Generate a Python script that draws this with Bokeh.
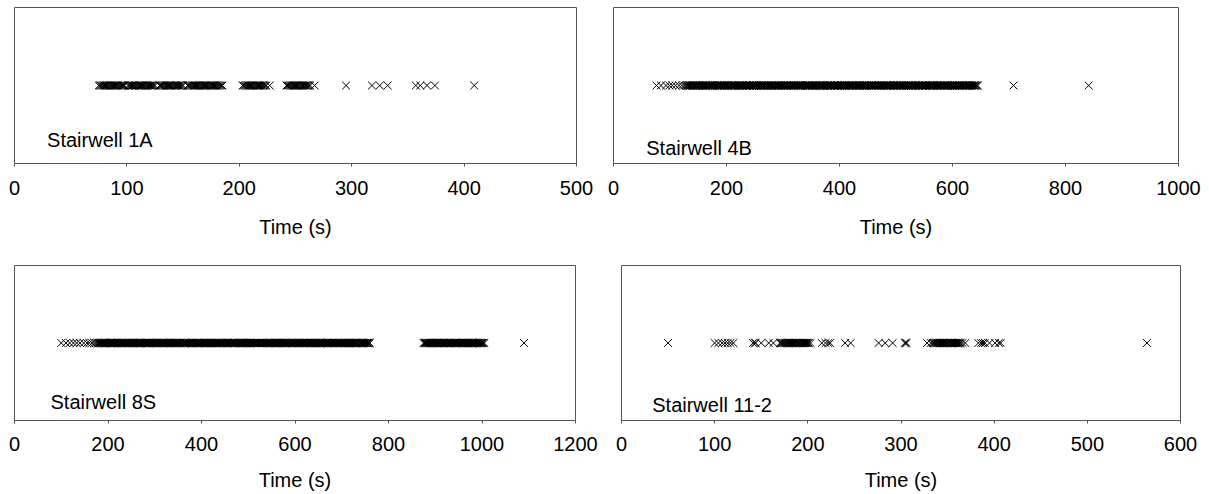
from bokeh.plotting import figure
from bokeh.models import FixedTicker, Label, Range1d
from bokeh.layouts import column, row
from bokeh.embed import file_html
from bokeh.resources import INLINE

# ---------------- data (evacuation / arrival times, s) ----------------
names = ["Stairwell 1A", "Stairwell 4B", "Stairwell 8S", "Stairwell 11-2"]

times_1a = [75, 76, 78, 79, 81, 82, 84, 85, 86, 88, 90, 91, 93, 95, 96, 98, 101,
            103, 104, 106, 107, 109, 110, 112, 113, 115, 116, 118, 119, 121, 122,
            124, 125, 129, 130, 132, 133, 135, 136, 138, 139, 141, 142, 144, 145,
            147, 149, 150, 154, 155, 157, 158, 160, 161, 163, 165, 166, 168, 169,
            171, 172, 174, 175, 177, 179, 180, 182, 183, 185,
            77, 80, 83, 87, 89, 92, 94, 97, 102, 105, 108, 111, 114, 117, 120,
            123, 131, 134, 137, 140, 143, 146, 148, 156, 159, 162, 164, 167, 170,
            173, 176, 178, 181, 184,
            203, 205, 206, 208, 209, 211, 212, 214, 215, 217, 218, 220, 222, 224, 227,
            204, 207, 210, 213, 216, 219, 221, 223,
            242, 243, 245, 247, 248, 250, 251, 253, 254, 256, 258, 259, 261, 263, 267,
            244, 246, 249, 252, 255, 257, 260, 262,
            295, 318, 325, 332, 357, 361, 367, 374, 409]

times_4b = [76, 84, 93, 99, 104, 110, 116, 121, 125, 128,
            130, 132, 135, 137, 140, 143, 145, 148, 150, 153, 156, 158, 161, 163,
            166, 169, 171, 174, 176, 179, 182, 184, 187, 189, 192, 195, 197, 200,
            202, 205, 208, 210, 213, 215, 218, 221, 223, 226, 228, 231, 234, 236,
            239, 241, 244, 247, 249, 252, 254, 257, 260, 262, 265, 267, 270, 273,
            275, 278, 280, 283, 286, 288, 291, 293, 296, 299, 301, 304, 306, 309,
            312, 314, 317, 319, 322, 325, 327, 330, 332, 335, 338, 340, 343, 345,
            348, 351, 353, 356, 358, 361, 364, 366, 369, 371, 374, 377, 379, 382,
            384, 387, 390, 392, 395, 397, 400, 403, 405, 408, 410, 413, 416, 418,
            421, 423, 426, 429, 431, 434, 436, 439, 442, 444, 447, 449, 452, 455,
            457, 460, 462, 465, 468, 470, 473, 475, 478, 481, 483, 486, 488, 491,
            494, 496, 499, 501, 504, 507, 509, 512, 514, 517, 520, 522, 525, 527,
            530, 533, 535, 538, 540, 543, 546, 548, 551, 553, 556, 559, 561, 564,
            566, 569, 572, 574, 577, 579, 582, 585, 587, 590, 592, 595, 598, 600,
            603, 605, 608, 611, 613, 616, 618, 621, 624, 626, 629, 631, 634, 637,
            639, 642, 645,
            131, 134, 136, 139, 141, 144, 146, 149, 151, 154, 157, 159, 162, 164,
            167, 170, 172, 175, 177, 180, 183, 185, 188, 190, 193, 196, 198, 201,
            203, 206, 209, 211, 214, 216, 219, 222, 224, 227, 229, 232, 235, 237,
            240, 242, 245, 248, 250, 253, 255, 258, 261, 263, 266, 268, 271, 274,
            276, 279, 281, 284, 287, 289, 292, 294, 297, 300, 302, 305, 307, 310,
            313, 315, 318, 320, 323, 326, 328, 331, 333, 336, 339, 341, 344, 346,
            349, 352, 354, 357, 359, 362, 365, 367, 370, 372, 375, 378, 380, 383,
            385, 388, 391, 393, 396, 398, 401, 404, 406, 409, 411, 414, 417, 419,
            422, 424, 427, 430, 432, 435, 437, 440, 443, 445, 448, 450, 453, 456,
            458, 461, 463, 466, 469, 471, 474, 476, 479, 482, 484, 487, 489, 492,
            495, 497, 500, 502, 505, 508, 510, 513, 515, 518, 521, 523, 526, 528,
            531, 534, 536, 539, 541, 544, 547, 549, 552, 554, 557, 560, 562, 565,
            567, 570, 573, 575, 578, 580, 583, 586, 588, 591, 593, 596, 599, 601,
            604, 606, 609, 612, 614, 617, 619, 622, 625, 627, 630, 632, 635, 638,
            640, 643,
            708, 841]

times_8s = [100, 110, 118, 126, 133, 140, 148, 155, 160, 166, 171, 175,
            178, 181, 184, 187, 190, 193, 196, 199, 202, 205, 208, 211, 214, 217,
            220, 223, 226, 229, 232, 235, 238, 241, 244, 247, 250, 253, 256, 259,
            262, 265, 268, 271, 274, 277, 280, 283, 286, 289, 292, 295, 298, 301,
            304, 307, 310, 313, 316, 319, 322, 325, 328, 331, 334, 337, 340, 343,
            346, 349, 352, 355, 358, 361, 364, 367, 370, 373, 376, 379, 382, 385,
            388, 391, 394, 397, 400, 403, 406, 409, 412, 415, 418, 421, 424, 427,
            430, 433, 436, 439, 442, 445, 448, 451, 454, 457, 460, 463, 466, 469,
            472, 475, 478, 481, 484, 487, 490, 493, 496, 499, 502, 505, 508, 511,
            514, 517, 520, 523, 526, 529, 532, 535, 538, 541, 544, 547, 550, 553,
            556, 559, 562, 565, 568, 571, 574, 577, 580, 583, 586, 589, 592, 595,
            598, 601, 604, 607, 610, 613, 616, 619, 622, 625, 628, 631, 634, 637,
            640, 643, 646, 649, 652, 655, 658, 661, 664, 667, 670, 673, 676, 679,
            682, 685, 688, 691, 694, 697, 700, 703, 706, 709, 712, 715, 718, 721,
            724, 727, 730, 733, 736, 739, 742, 745, 748, 751, 754, 757, 760,
            180, 183, 186, 189, 192, 195, 198, 201, 204, 207, 210, 213, 216, 219,
            222, 225, 228, 231, 234, 237, 240, 243, 246, 249, 252, 255, 258, 261,
            264, 267, 270, 273, 276, 279, 282, 285, 288, 291, 294, 297, 300, 303,
            306, 309, 312, 315, 318, 321, 324, 327, 330, 333, 336, 339, 342, 345,
            348, 351, 354, 363, 366, 369, 372, 375, 378, 381, 384, 387, 390, 393,
            396, 399, 402, 405, 408, 411, 414, 417, 420, 423, 426, 429, 432, 435,
            438, 441, 444, 447, 453, 456, 459, 462, 465, 468, 471, 474, 477, 480,
            483, 486, 489, 492, 495, 498, 501, 504, 507, 510, 513, 516, 519, 522,
            525, 528, 531, 534, 537, 540, 543, 546, 549, 552, 555, 558, 561, 564,
            567, 570, 573, 576, 579, 582, 585, 588, 594, 597, 600, 603, 606, 609,
            612, 615, 618, 621, 624, 627, 630, 633, 636, 639, 642, 645, 648, 651,
            654, 657, 660, 663, 666, 669, 672, 675, 678, 681, 684, 687, 690, 693,
            696, 699, 702, 705, 708, 711, 714, 717, 720, 723, 726, 729, 732, 738,
            741, 744, 747, 750, 753, 756, 759,
            875, 878, 881, 884, 887, 890, 893, 896, 899, 902, 905, 908, 911, 914,
            917, 920, 923, 926, 929, 932, 935, 938, 941, 944, 947, 950, 953, 956,
            959, 962, 965, 968, 971, 974, 977, 980, 983, 986, 989, 992, 995, 998,
            1001, 1005,
            877, 880, 883, 886, 889, 892, 895, 898, 901, 904, 907, 910, 913, 916,
            919, 922, 925, 928, 931, 934, 937, 940, 943, 946, 949, 952, 955, 958,
            961, 964, 967, 970, 973, 976, 979, 982, 985, 988, 991, 994, 997, 1000,
            1003,
            1090]

times_112 = [50,
             100, 104, 108, 111, 114, 117, 120,
             141, 143, 144, 150, 158, 163,
             170, 172, 174, 175, 177, 178, 180, 181, 183, 184, 186, 187, 189, 190,
             192, 194, 196, 198, 200, 203,
             171, 173, 176, 179, 182, 185, 188, 191, 193, 195, 197, 199, 201,
             215, 219, 222, 224,
             240, 246,
             276, 283, 291, 304, 305, 306,
             328, 332, 335, 337, 339, 341, 343, 345, 347, 349, 351, 352, 354, 356,
             358, 360, 362, 364, 366, 369,
             334, 336, 338, 340, 342, 344, 346, 348, 350, 353, 355, 357, 359, 361,
             363,
             383, 386, 388, 390, 395, 401, 405, 407,
             564]

ticks_1a = [0, 100, 200, 300, 400, 500]
ticks_4b = [0, 200, 400, 600, 800, 1000]
ticks_8s = [0, 200, 400, 600, 800, 1000, 1200]
ticks_112 = [0, 100, 200, 300, 400, 500, 600]
labels_1a = ["0", "100", "200", "300", "400", "500"]
labels_4b = ["0", "200", "400", "600", "800", "1000"]
labels_8s = ["0", "200", "400", "600", "800", "1000", "1200"]
labels_112 = ["0", "100", "200", "300", "400", "500", "600"]
x_label = "Time (s)"

FONT = "Liberation Sans"
LINE = "#555555"


def panel(xs, ticks, labels, name, name_pos, width, height, borders,
          standoffs):
    bl, br, bt, bb = borders
    p = figure(width=width, height=height, output_backend="svg",
               toolbar_location=None, x_range=Range1d(ticks[0], ticks[-1]),
               y_range=Range1d(0, 2), y_axis_location=None,
               min_border_left=bl, min_border_right=br,
               min_border_top=bt, min_border_bottom=bb,
               x_axis_label=x_label)
    p.xgrid.visible = False
    p.ygrid.visible = False
    p.outline_line_color = LINE
    p.outline_line_width = 1
    p.outline_line_alpha = 1
    p.background_fill_color = "white"
    p.border_fill_color = "white"

    ax = p.xaxis[0]
    ax.ticker = FixedTicker(ticks=ticks)
    ax.major_label_overrides = {t: l for t, l in zip(ticks, labels)}
    ax.major_tick_in = 0
    ax.major_tick_out = 3
    ax.minor_tick_in = 0
    ax.minor_tick_out = 0
    ax.axis_line_color = LINE
    ax.major_tick_line_color = LINE
    ax.major_label_text_font = FONT
    ax.major_label_text_font_size = "20px"
    ax.major_label_text_color = "black"
    ax.major_label_standoff = standoffs[0]
    ax.axis_label_text_font = FONT
    ax.axis_label_text_font_size = "20px"
    ax.axis_label_text_font_style = "normal"
    ax.axis_label_text_color = "black"
    ax.axis_label_standoff = standoffs[1]

    p.scatter(xs, [1] * len(xs), marker="x", size=11, line_color="black",
              line_width=1)

    p.add_layout(Label(x=name_pos[0], y=name_pos[1], text=name,
                       text_font=FONT, text_font_size="20px",
                       text_color="black", text_baseline="middle"))
    return p


p1 = panel(times_1a, ticks_1a, labels_1a, names[0], (29, 0.295),
           600, 265, (14, 24, 7, 102), (14, 18))
p2 = panel(times_4b, ticks_4b, labels_4b, names[1], (58, 0.205),
           601, 265, (13, 23, 7, 102), (14, 18))
p3 = panel(times_8s, ticks_8s, labels_8s, names[2], (77, 0.245),
           600, 229, (14, 25, 0, 74), (13, 15))
p4 = panel(times_112, ticks_112, labels_112, names[3], (33, 0.206),
           601, 229, (21, 21, 0, 74), (13, 15))

layout = column(row(p1, p2), row(p3, p4))

open("out.html", "w").write(file_html(layout, INLINE))
